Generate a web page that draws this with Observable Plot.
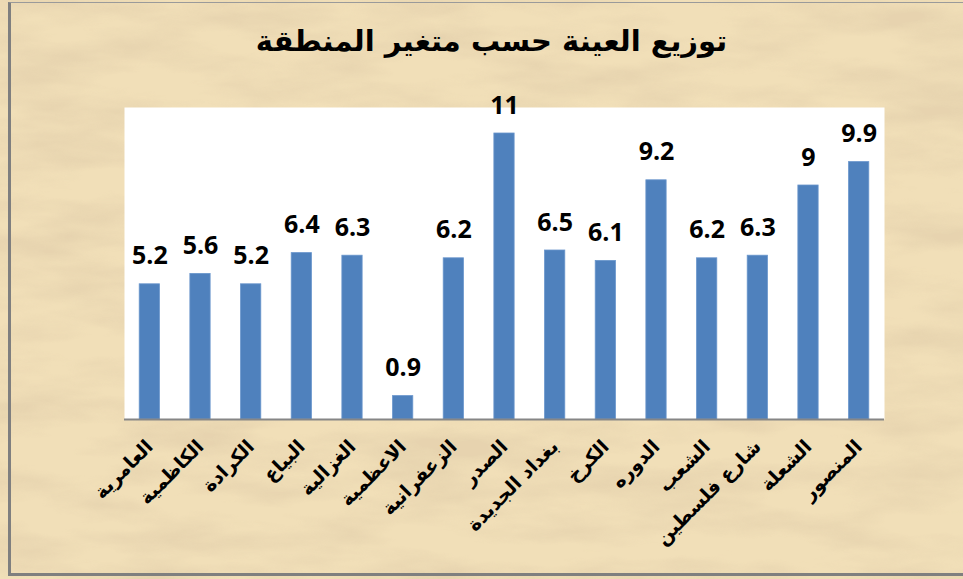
<!DOCTYPE html>
<html>
<head>
<meta charset="utf-8">
<script src="https://cdn.jsdelivr.net/npm/d3@7"></script>
<script src="https://cdn.jsdelivr.net/npm/@observablehq/plot@0.6"></script>
<style>
  html, body { margin: 0; padding: 0; }
  #wrap { position: relative; width: 963px; height: 579px; overflow: hidden; background: #f0deb7; }
  #bg { position: absolute; left: 0; top: 0; }
  #border { position: absolute; left: 8px; top: 2px; width: 960px; height: 574px;
            border-left: 3px solid #7f7f7f; border-top: 1px solid #9a9a9a; border-bottom: 3px solid #7f7f7f; box-sizing: border-box; }
  #content { position: relative; }
  #title { height: 90px; box-sizing: border-box; padding-top: 24px; padding-left: 20px; text-align: center;
           font: bold 29px "DejaVu Sans", sans-serif; color: #000; direction: rtl; }
  #chart svg { display: block; }
</style>
</head>
<body>
<div id="wrap">
  <svg id="bg" width="963" height="579">
    <filter id="tex" x="0" y="0" width="100%" height="100%">
      <feTurbulence type="fractalNoise" baseFrequency="0.008 0.03" numOctaves="4" seed="7"/>
      <feColorMatrix type="matrix" values="0 0 0 0 0.78  0 0 0 0 0.64  0 0 0 0 0.42  2.4 0 0 0 -0.9"/>
    </filter>
    <rect width="963" height="579" fill="#f1dfb8"/>
    <rect width="963" height="579" filter="url(#tex)" opacity="0.8"/>
  </svg>
  <div id="border"></div>
  <div id="content">
    <div id="title">توزيع العينة حسب متغير المنطقة</div>
    <div id="chart"></div>
  </div>
</div>
<script>
const regions = ["العامرية", "الكاظمية", "الكرادة", "البياع", "الغزالية", "الاعظمية", "الزعفرانية", "الصدر", "بغداد الجديدة", "الكرخ", "الدوره", "الشعب", "شارع فلسطين", "الشعلة", "المنصور"];
const values = [5.2, 5.6, 5.2, 6.4, 6.3, 0.9, 6.2, 11, 6.5, 6.1, 9.2, 6.2, 6.3, 9, 9.9];
const yDomain = [0, 12];

const data = regions.map((r, i) => ({ region: r, value: values[i] }));

const chart = Plot.plot({
  width: 963,
  height: 489,
  marginTop: 17,
  marginBottom: 160,
  marginLeft: 124,
  marginRight: 79,
  style: { background: "transparent", overflow: "visible" },
  x: { domain: regions, paddingInner: 0.6, paddingOuter: 0.3, round: false, label: null },
  y: { domain: yDomain, axis: null },
  marks: [
    Plot.frame({ fill: "white", stroke: null }),
    Plot.barY(data, { x: "region", y: "value", fill: "#4f81bd", stroke: "#6a96cc", strokeWidth: 0.8 }),
    Plot.ruleY([0], { stroke: "#868686", strokeWidth: 2 }),
    Plot.text(data, {
      x: "region", y: "value", text: d => String(d.value), dy: -20, lineAnchor: "bottom",
      fontSize: 25, fontWeight: "bold", fontFamily: "'Open Sans', sans-serif", fill: "#000"
    }),
    Plot.axisX({
      tickSize: 0, tickRotate: -45, tickPadding: 24, label: null,
      fontSize: 19, fontWeight: "bold", fontFamily: "'DejaVu Sans', sans-serif", fill: "#000"
    })
  ]
});
document.getElementById("chart").appendChild(chart);
</script>
</body>
</html>
